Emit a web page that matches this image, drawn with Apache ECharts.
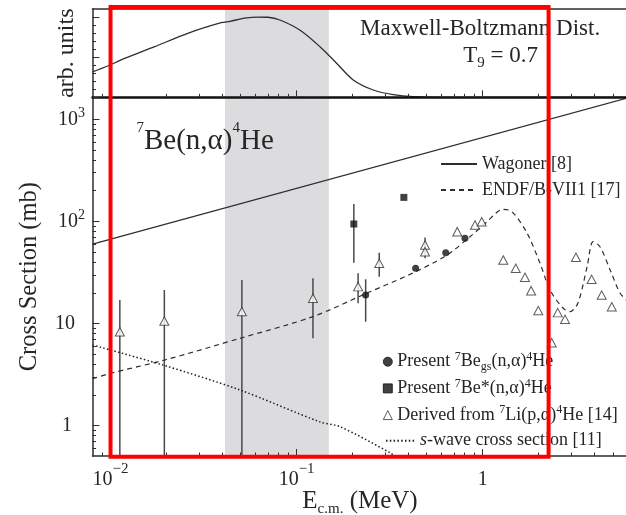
<!DOCTYPE html>
<html>
<head>
<meta charset="utf-8">
<title>7Be(n,α)4He cross section</title>
<script src="https://cdn.jsdelivr.net/npm/echarts@6.0.0/dist/echarts.min.js"></script>
<style>
  html, body { margin: 0; padding: 0; background: #fff; }
  #chart { width: 626px; height: 515px; }
</style>
</head>
<body>
<div id="chart"></div>
<script>
// values: E(c.m.) in MeV, cross section in mb
const mbCurve = [[0.008, 0.318], [0.00966, 0.39], [0.0114, 0.465], [0.01725, 0.63], [0.026, 0.797], [0.0393, 0.929],
  [0.0439, 0.947], [0.0525, 0.985], [0.0619, 1.0], [0.0703, 0.997], [0.0813, 0.963], [0.104, 0.838], [0.1335, 0.63],
  [0.164, 0.424], [0.2015, 0.216], [0.258, 0.091], [0.331, 0.032], [0.424, 0.007], [0.62, 0], [6, 0]]
const wagoner = [[0.008, 60], [6, 1620]]
const endf = [[0.008, 2.88], [0.01, 3.26], [0.0196, 4.4], [0.0496, 7.17], [0.1225, 11.7], [0.239, 19.9], [0.422, 31.3],
  [0.643, 46.9], [0.855, 70.9], [1.055, 99.4], [1.285, 131.5], [1.438, 124.5], [1.73, 77.1], [2.03, 39.2], [2.3, 21.3],
  [2.7, 14.2], [2.95, 13.1], [3.25, 15.9], [3.64, 36.0], [3.92, 63.4], [4.27, 56.6], [4.84, 33.5], [5.47, 19.9], [6, 16.6]]
const sWave = [[0.008, 6.17], [0.0191, 3.93], [0.0495, 2.24], [0.1334, 1.09], [0.171, 0.978], [0.318, 0.544], [0.34, 0.5]]
const presentGs = [[0.235, 19.0], [0.436, 34.8], [0.633, 49.4], [0.803, 68.4]]
const presentExc = [[0.203, 94.4], [0.377, 172]]
const derived = [[0.01122, 8.32], [0.01946, 10.6], [0.0508, 13.1], [0.1224, 17.7], [0.214, 23.0], [0.278, 38.9],
  [0.49, 58.8], [0.49, 50.6], [0.73, 79.4], [0.909, 92.3], [0.988, 99.4], [1.29, 41.9], [1.505, 34.8], [1.687, 28.4],
  [1.82, 21.0], [1.99, 13.4], [2.35, 6.5], [2.53, 12.8], [2.77, 11.0], [3.17, 44.6], [3.85, 27.1], [4.36, 19.0], [4.94, 14.6]]
// [E, low, high]
const derivedErr = [[0.01122, 0.1, 17.0], [0.01946, 0.1, 21.3], [0.0508, 0.1, 26.7], [0.1224, 7.17, 27.8],
  [0.214, 15.8, 31.1], [0.278, 28.8, 49.4], [0.49, 43.6, 69.6]]
const presentGsErr = [[0.235, 10.4, 27.1]]
const presentExcErr = [[0.203, 39.4, 148]]
const grayBand = [0.0412, 0.149]
const highlightBox = [0.01, 2.26]

const xMajorTicks = [0.01, 0.1, 1]
const xMinorTicks = [0.009, 0.02, 0.03, 0.04, 0.05, 0.06, 0.07, 0.08, 0.09, 0.2, 0.3, 0.4, 0.5, 0.6, 0.7, 0.8, 0.9, 2, 3, 4, 5, 6]
const yMajorTicks = [1, 10, 100, 1000]
const yMinorTicks = [0.6, 0.7, 0.8, 0.9, 2, 3, 4, 5, 6, 7, 8, 9, 20, 30, 40, 50, 60, 70, 80, 90, 200, 300, 400, 500, 600, 700, 800, 900]
const arbMajorTicks = [0, 0.5, 1]
const arbMinorTicks = [0.1, 0.2, 0.3, 0.4, 0.6, 0.7, 0.8, 0.9]

const FONT = 'Liberation Serif'
const INK = '#262626'
const LINE = '#2e2e2e'

const WAG = 'Wagoner [8]'
const ENDF = 'ENDF/B-VII1 [17]'
const GS = 'Present 7Be gs(n,α)4He'
const EXC = 'Present 7Be*(n,α)4He'
const DER = 'Derived from 7Li(p,α)4He [14]'
const SW = 's-wave cross section [11]'
const legendText = {
  [WAG]: WAG,
  [ENDF]: ENDF,
  [GS]: 'Present {sup|7}Be{sub|gs}(n,α){sup|4}He',
  [EXC]: 'Present {sup|7}Be*(n,α){sup|4}He',
  [DER]: 'Derived from {sup|7}Li(p,α){sup|4}He [14]',
  [SW]: '{it|s}-wave cross section [11]'
}

const legendStyle = {
  fontFamily: FONT,
  fontSize: 18,
  lineHeight: 22,
  color: INK,
  rich: {
    sup: { fontFamily: FONT, fontSize: 12, lineHeight: 12, verticalAlign: 'top', color: INK },
    sub: { fontFamily: FONT, fontSize: 12, lineHeight: 9, verticalAlign: 'bottom', color: INK },
    it: { fontFamily: FONT, fontSize: 18, lineHeight: 22, fontStyle: 'italic', color: INK }
  }
}

function logX(gridIndex, position, extra) {
  return Object.assign({
    type: 'log',
    logBase: 10,
    gridIndex: gridIndex,
    position: position,
    min: 0.008,
    max: 6,
    z: 10,
    axisLine: { show: false, onZero: false },
    axisTick: { show: false },
    axisLabel: { show: false },
    splitLine: { show: false }
  }, extra)
}

function tickSet(values, length) {
  return { show: true, inside: true, length: length, customValues: values, lineStyle: { color: LINE, width: 1 } }
}

function band() {
  return {
    silent: true,
    itemStyle: { color: '#dcdcdf', borderWidth: 0 },
    data: [[{ xAxis: grayBand[0] }, { xAxis: grayBand[1] }]]
  }
}

const chart = echarts.init(document.getElementById('chart'))

const option = {
  animation: false,
  backgroundColor: '#fff',
  grid: [
    { left: 92.5, right: -1.5, top: 9, height: 88.3, containLabel: false, outerBoundsMode: 'none' },
    { left: 92.5, right: -1.5, top: 97.3, bottom: 59, containLabel: false, outerBoundsMode: 'none' }
  ],
  xAxis: [
    logX(0, 'bottom', { axisLine: { show: true, onZero: false, lineStyle: { color: '#111', width: 2.5 } }, axisTick: tickSet(xMajorTicks, 7) }),
    logX(0, 'bottom', { axisTick: tickSet(xMinorTicks, 3.5) }),
    logX(0, 'top', { axisLine: { show: true, onZero: false, lineStyle: { color: LINE, width: 1.5 } } }),
    logX(1, 'bottom', {
      axisLine: { show: true, onZero: false, lineStyle: { color: LINE, width: 1.5 } },
      axisTick: tickSet(xMajorTicks, 7),
      axisLabel: {
        show: true,
        customValues: xMajorTicks,
        margin: 6,
        fontFamily: FONT,
        fontSize: 20,
        lineHeight: 36,
        color: INK,
        formatter: v => {
          const p = Math.round(Math.log10(v))
          return p === 0 ? '1' : '10{sup|' + (p < 0 ? '\u2212' + (-p) : p) + '}'
        },
        rich: { sup: { fontFamily: FONT, fontSize: 15, lineHeight: 14, verticalAlign: 'top', color: INK } }
      },
      name: 'E{sub|c.m.} (MeV)',
      nameLocation: 'middle',
      nameGap: 30.5,
      nameMoveOverlap: false,
      nameTextStyle: {
        fontFamily: FONT,
        fontSize: 25,
        lineHeight: 30,
        color: INK,
        rich: { sub: { fontFamily: FONT, fontSize: 15, lineHeight: 10, verticalAlign: 'bottom', color: INK } }
      }
    }),
    logX(1, 'bottom', { axisTick: tickSet(xMinorTicks, 3.5) })
  ],
  yAxis: [
    {
      type: 'value',
      gridIndex: 0,
      position: 'left',
      min: 0,
      max: 1.1,
      z: 10,
      axisLine: { show: true, onZero: false, lineStyle: { color: LINE, width: 1.5 } },
      axisTick: tickSet(arbMajorTicks, 7),
      axisLabel: { show: false },
      splitLine: { show: false },
      name: 'arb. units',
      nameLocation: 'middle',
      nameGap: 13,
      nameMoveOverlap: false,
      nameTextStyle: { fontFamily: FONT, fontSize: 24, lineHeight: 26, color: INK }
    },
    {
      type: 'value',
      gridIndex: 0,
      position: 'left',
      min: 0,
      max: 1.1,
      z: 10,
      axisLine: { show: false, onZero: false },
      axisTick: tickSet(arbMinorTicks, 3.5),
      axisLabel: { show: false },
      splitLine: { show: false }
    },
    {
      type: 'log',
      logBase: 10,
      gridIndex: 1,
      position: 'left',
      min: 0.505,
      max: 1643,
      z: 10,
      axisLine: { show: true, onZero: false, lineStyle: { color: LINE, width: 1.5 } },
      axisTick: tickSet(yMajorTicks, 7),
      axisLabel: {
        show: true,
        customValues: yMajorTicks,
        margin: 7.5,
        fontFamily: FONT,
        fontSize: 20,
        lineHeight: 26,
        color: INK,
        formatter: v => {
          const p = Math.round(Math.log10(v))
          if (p === 0) return '1{sp1| }'
          if (p === 1) return '10{sp2| }'
          return '10{sup|' + p + '}'
        },
        rich: {
          sup: { fontFamily: FONT, fontSize: 14, lineHeight: 14, verticalAlign: 'top', color: INK },
          sp1: { fontSize: 10, width: 13 },
          sp2: { fontSize: 10, width: 10 }
        }
      },
      splitLine: { show: false },
      name: 'Cross Section (mb)',
      nameLocation: 'middle',
      nameGap: 48.5,
      nameMoveOverlap: false,
      nameTextStyle: { fontFamily: FONT, fontSize: 24.5, lineHeight: 28, color: INK }
    },
    {
      type: 'log',
      logBase: 10,
      gridIndex: 1,
      position: 'left',
      min: 0.505,
      max: 1643,
      z: 10,
      axisLine: { show: false, onZero: false },
      axisTick: tickSet(yMinorTicks, 3.5),
      axisLabel: { show: false },
      splitLine: { show: false }
    }
  ],
  legend: [
    {
      orient: 'vertical',
      left: 440,
      top: 153,
      padding: 0,
      itemWidth: 36,
      itemHeight: 12,
      itemGap: 4,
      selectedMode: false,
      itemStyle: { opacity: 0 },
      data: [WAG, ENDF],
      formatter: n => legendText[n],
      textStyle: legendStyle
    },
    {
      orient: 'vertical',
      left: 382.8,
      top: 350.7,
      padding: 0,
      itemWidth: 9,
      itemHeight: 9,
      itemGap: 4.7,
      selectedMode: false,
      itemStyle: { borderWidth: 1 },
      data: [GS, EXC, DER],
      formatter: n => legendText[n],
      textStyle: legendStyle
    },
    {
      orient: 'vertical',
      left: 385,
      top: 429.7,
      padding: 0,
      itemWidth: 29,
      itemHeight: 10,
      selectedMode: false,
      itemStyle: { opacity: 0 },
      data: [SW],
      formatter: n => legendText[n],
      textStyle: legendStyle
    }
  ],
  series: [
    {
      name: 'Maxwell-Boltzmann',
      type: 'line',
      xAxisIndex: 0,
      yAxisIndex: 0,
      data: mbCurve,
      smooth: 0.3,
      symbol: 'none',
      lineStyle: { color: LINE, width: 1.3 },
      markArea: band()
    },
    {
      name: WAG,
      type: 'line',
      xAxisIndex: 3,
      yAxisIndex: 2,
      data: wagoner,
      symbol: 'none',
      lineStyle: { color: LINE, width: 1.2 },
      itemStyle: { color: LINE },
      markArea: band()
    },
    {
      name: ENDF,
      type: 'line',
      xAxisIndex: 3,
      yAxisIndex: 2,
      data: endf,
      smooth: 0.3,
      symbol: 'none',
      lineStyle: { color: LINE, width: 1.2, type: [5, 4] },
      itemStyle: { color: LINE }
    },
    {
      name: SW,
      type: 'line',
      xAxisIndex: 3,
      yAxisIndex: 2,
      data: sWave,
      smooth: 0.3,
      symbol: 'none',
      lineStyle: { color: '#1e1e1e', width: 1.5, type: [1.5, 2.3] },
      itemStyle: { color: '#1e1e1e' }
    },
    {
      name: 'error bars',
      type: 'custom',
      xAxisIndex: 3,
      yAxisIndex: 2,
      clip: true,
      silent: true,
      z: 3,
      data: derivedErr.concat(presentGsErr, presentExcErr),
      encode: { x: 0, y: [1, 2] },
      renderItem: (params, api) => {
        const lo = api.coord([api.value(0), api.value(1)])
        const hi = api.coord([api.value(0), api.value(2)])
        return {
          type: 'line',
          shape: { x1: lo[0], y1: lo[1], x2: hi[0], y2: hi[1] },
          style: { stroke: '#4a4a4a', lineWidth: 1.5 }
        }
      }
    },
    {
      name: DER,
      type: 'scatter',
      xAxisIndex: 3,
      yAxisIndex: 2,
      data: derived,
      symbol: 'triangle',
      symbolSize: [9, 8.5],
      z: 4,
      itemStyle: { color: '#fff', borderColor: '#333', borderWidth: 1 }
    },
    {
      name: GS,
      type: 'scatter',
      xAxisIndex: 3,
      yAxisIndex: 2,
      data: presentGs,
      symbol: 'circle',
      symbolSize: 7,
      z: 4,
      itemStyle: { color: '#111', borderColor: '#111', borderWidth: 0 }
    },
    {
      name: EXC,
      type: 'scatter',
      xAxisIndex: 3,
      yAxisIndex: 2,
      data: presentExc,
      symbol: 'rect',
      symbolSize: 7,
      z: 4,
      itemStyle: { color: '#111', borderColor: '#111', borderWidth: 0 }
    }
  ],
  graphic: [
    {
      type: 'text',
      x: 136.5,
      y: 141,
      z: 50,
      silent: true,
      style: {
        text: '{sup|7}Be(n,\u03b1){sup|4}He',
        fontFamily: FONT,
        fontSize: 29,
        lineHeight: 40,
        fill: INK,
        verticalAlign: 'middle',
        rich: { sup: { fontFamily: FONT, fontSize: 15, lineHeight: 15, verticalAlign: 'top', fill: INK } }
      }
    },
    {
      type: 'text',
      x: 360,
      y: 29.2,
      z: 50,
      silent: true,
      style: { text: 'Maxwell-Boltzmann Dist.', fontFamily: FONT, fontSize: 23, fill: INK, verticalAlign: 'middle' }
    },
    {
      type: 'text',
      x: 463.3,
      y: 55.7,
      z: 50,
      silent: true,
      style: {
        text: 'T{sub|9} = 0.7',
        fontFamily: FONT,
        fontSize: 23,
        lineHeight: 30,
        fill: INK,
        verticalAlign: 'middle',
        rich: { sub: { fontFamily: FONT, fontSize: 15, lineHeight: 15, verticalAlign: 'bottom', fill: INK } }
      }
    }
  ]
}

chart.setOption(option)

// red highlight frame, placed through the axes
const bx0 = chart.convertToPixel({ xAxisIndex: 3 }, highlightBox[0])
const bx1 = chart.convertToPixel({ xAxisIndex: 3 }, highlightBox[1])
const by0 = chart.convertToPixel({ yAxisIndex: 0 }, 1.1) - 2
const by1 = chart.convertToPixel({ yAxisIndex: 2 }, 0.505) + 0.7
chart.setOption({
  graphic: option.graphic.concat([{
    type: 'rect',
    silent: true,
    z: 100,
    shape: { x: bx0, y: by0, width: bx1 - bx0, height: by1 - by0 },
    style: { fill: 'transparent', stroke: '#ff0000', lineWidth: 4 }
  }])
})
</script>
</body>
</html>
